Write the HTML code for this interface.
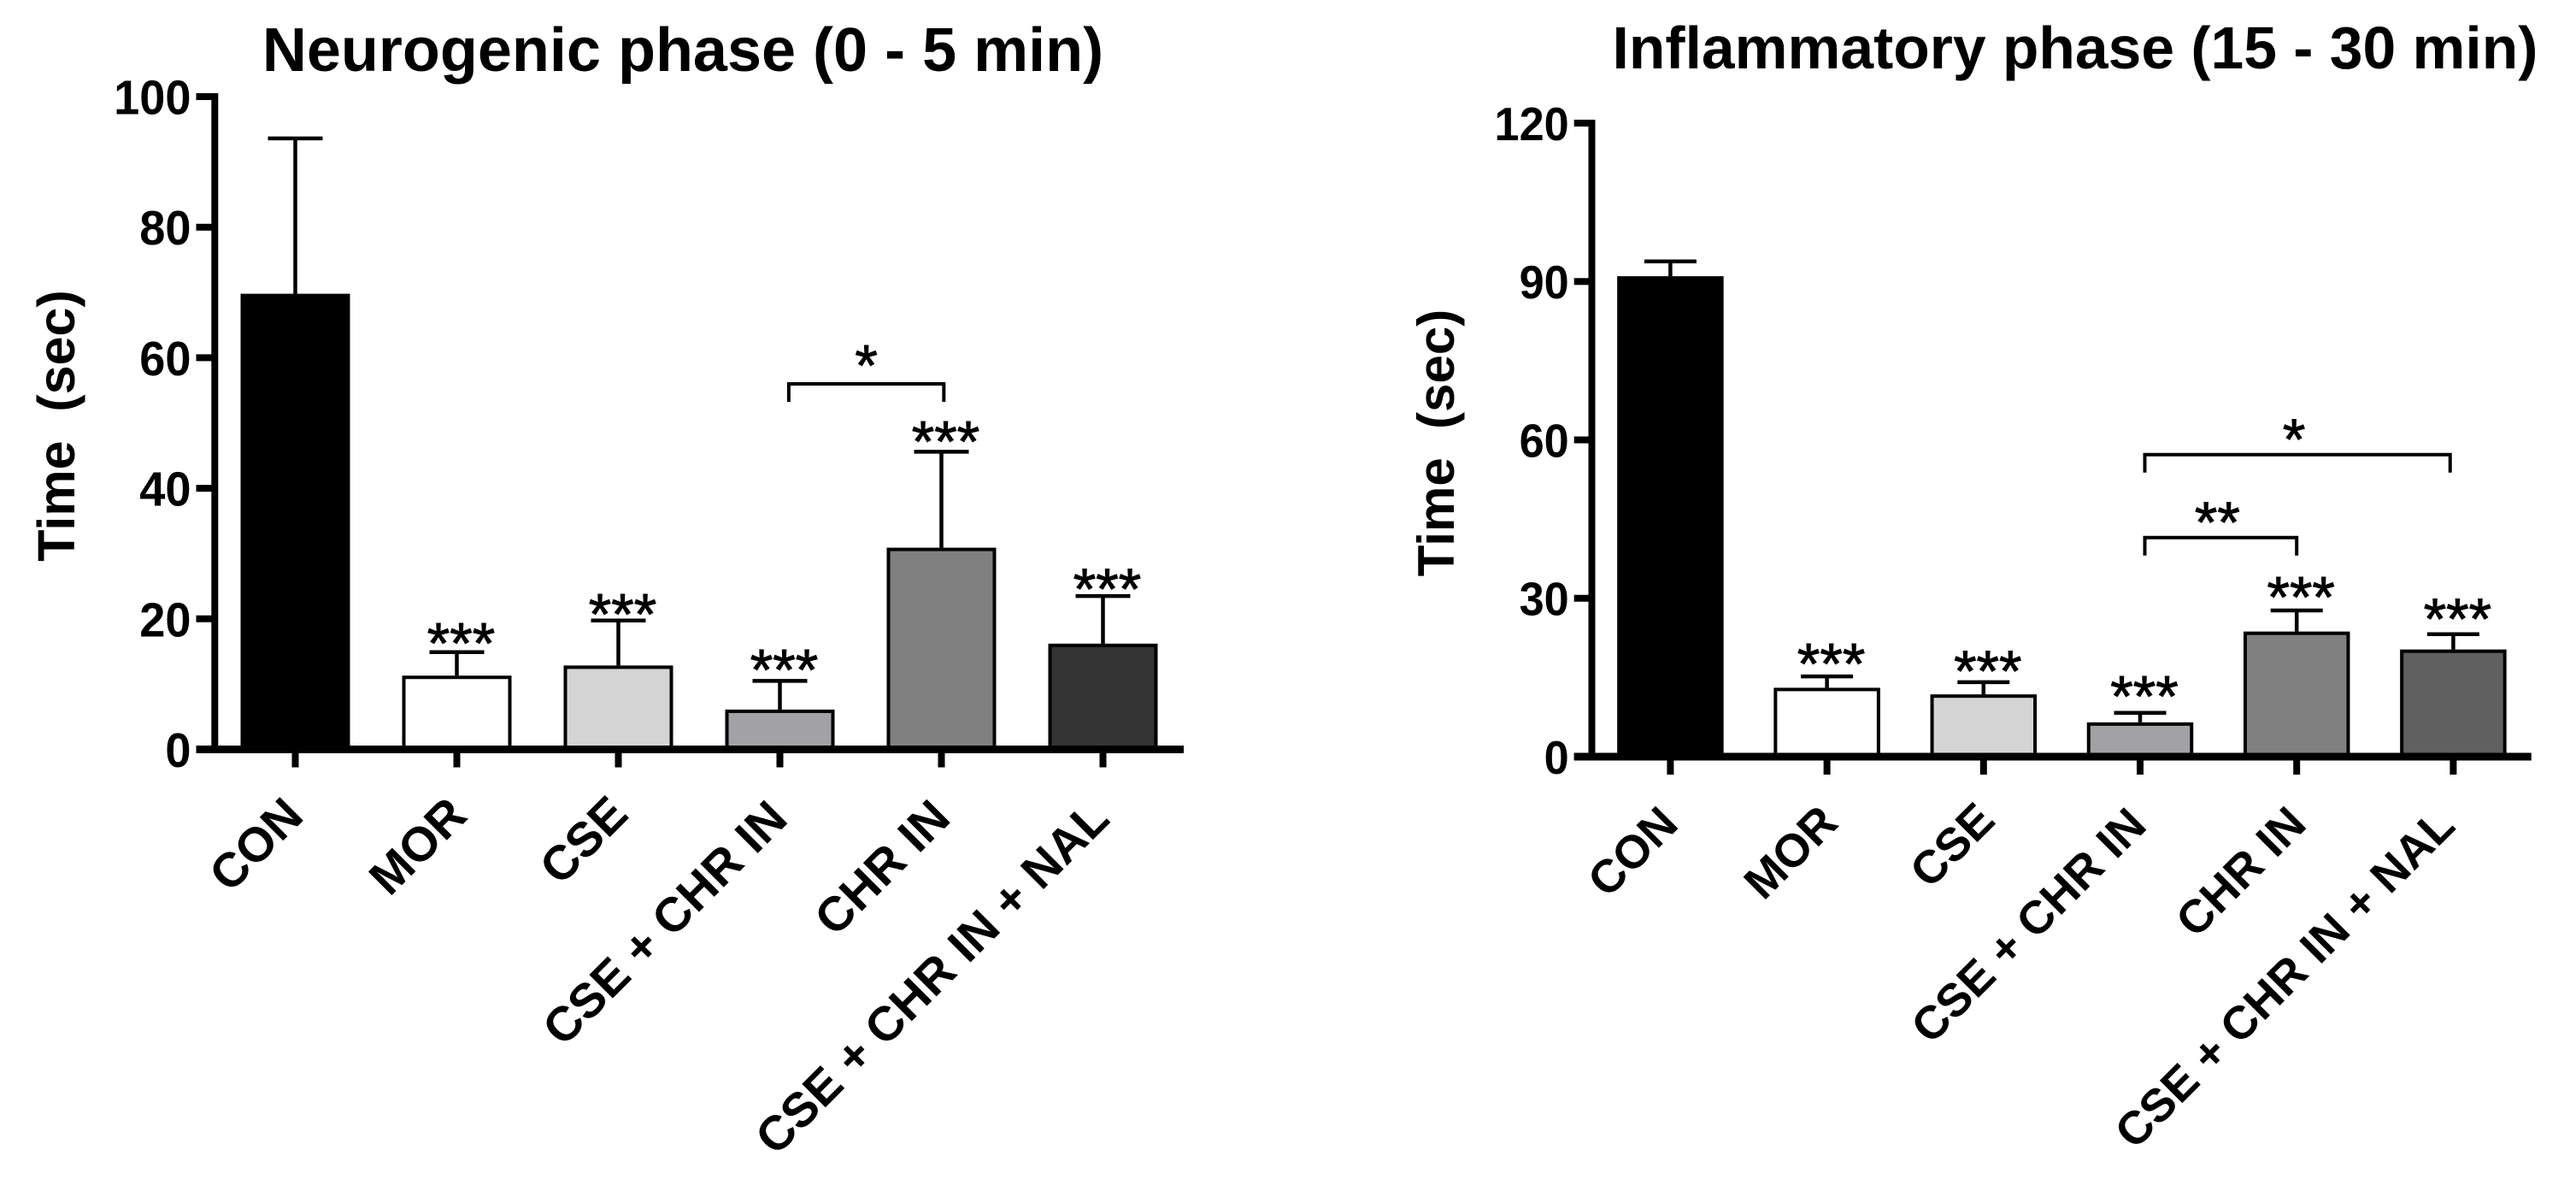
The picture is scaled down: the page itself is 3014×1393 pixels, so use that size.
<!DOCTYPE html>
<html lang="en">
<head>
<meta charset="utf-8">
<title>Neurogenic and inflammatory phase response times</title>
<style>
html,body{margin:0;padding:0;background:#fff;width:3014px;height:1393px;overflow:hidden}
svg{display:block;font-family:"Liberation Sans",Arial,sans-serif}
</style>
</head>
<body>
<svg id="figure" xmlns="http://www.w3.org/2000/svg" width="3014" height="1393" viewBox="0 0 3014 1393">
  <text x="799" y="83" text-anchor="middle" font-weight="700" font-size="72">Neurogenic phase (0 - 5 min)</text>
  <text x="2428" y="80" text-anchor="middle" font-weight="700" font-size="69.6">Inflammatory phase (15 - 30 min)</text>
  <text transform="translate(87 498) rotate(-90)" text-anchor="middle" font-weight="700" font-size="61" xml:space="preserve">Time  (sec)</text>
  <text transform="translate(1701 518) rotate(-90)" text-anchor="middle" font-weight="700" font-size="60" xml:space="preserve">Time  (sec)</text>
</svg>
<script>
const categories = ['CON', 'MOR', 'CSE', 'CSE + CHR IN', 'CHR IN', 'CSE + CHR IN + NAL'];

const neuroMeans = [69.8, 11.3, 12.85, 6.1, 30.9, 16.2];
const neuroErrorTops = [93.6, 14.9, 19.75, 10.5, 45.6, 23.5];
const neuroStarLevels = [null, 16.1, 20.5, 12, 47, 24.4];
const neuroStarLabels = ['', '***', '***', '***', '***', '***'];
const neuroTicks = [0, 20, 40, 60, 80, 100];
const neuroFills = ['#000000', '#ffffff', '#d4d4d4', '#a2a2a6', '#808080', '#333333'];
const neuroBracketFrom = [3.055];
const neuroBracketTo = [4.015];
const neuroBracketLevels = [56];
const neuroBracketLabels = ['*'];

const inflamMeans = [91, 13.05, 11.8, 6.5, 23.7, 20.3];
const inflamErrorTops = [93.8, 15.2, 14.1, 8.3, 27.7, 23.2];
const inflamStarLevels = [null, 17.4, 16, 11.2, 30, 25.9];
const inflamStarLabels = ['', '***', '***', '***', '***', '***'];
const inflamTicks = [0, 30, 60, 90, 120];
const inflamFills = ['#000000', '#ffffff', '#d4d4d4', '#a2a2a6', '#808080', '#606060'];
const inflamBracketFrom = [3.03, 3.03];
const inflamBracketTo = [4, 4.98];
const inflamBracketLevels = [41.5, 57.2];
const inflamBracketLabels = ['**', '*'];

const NS = 'http://www.w3.org/2000/svg';
const figure = document.getElementById('figure');

function make(tag, attrs, parent) {
  const node = document.createElementNS(NS, tag);
  Object.keys(attrs).forEach(function (k) { node.setAttribute(k, attrs[k]); });
  parent.appendChild(node);
  return node;
}

function drawChart(c) {
  const yOf = function (v) { return c.y0 - (v / c.max) * (c.y0 - c.yTop); };
  const xOf = function (i) { return c.x0 + i * c.step; };
  const starBase = c.starFont * 0.32;

  const group = make('g', {}, figure);
  
  

  c.means.forEach(function (mean, i) {
    const cx = xOf(i);
    const stem = make('line', { x1: cx, x2: cx, y1: yOf(c.errorTops[i]), y2: yOf(mean), stroke: '#000', 'stroke-width': 4.5 }, group);
    
    

    const cap = make('line', { x1: cx - c.capW / 2, x2: cx + c.capW / 2, y1: yOf(c.errorTops[i]), y2: yOf(c.errorTops[i]), stroke: '#000', 'stroke-width': 4.5 }, group);
    
    

    const bar = make('rect', { x: cx - c.barW / 2 + 2, y: yOf(mean) + 2, width: c.barW - 4, height: c.y0 - yOf(mean) - 2, fill: c.fills[i], stroke: '#000', 'stroke-width': 4 }, group);
    
    

    if (c.starLevels[i] !== null) {
      const star = make('text', { x: cx + c.starShift, y: yOf(c.starLevels[i]) + starBase, 'text-anchor': 'middle', 'font-size': c.starFont, stroke: '#000', 'stroke-width': 1 }, group);
      star.textContent = c.starLabels[i];
      
      
    }

    const tick = make('line', { x1: cx, x2: cx, y1: c.y0, y2: c.y0 + 21, stroke: '#000', 'stroke-width': 8 }, group);
    
    

    const label = make('text', { transform: 'translate(' + (cx + c.labelNudgeX[i]) + ' ' + (c.y0 + c.labelNudgeY[i]) + ') rotate(-45)', 'text-anchor': 'end', 'font-weight': 700, 'font-size': c.labelFont }, group);
    label.textContent = categories[i];
    
    
  });

  c.ticks.forEach(function (v) {
    const t = make('line', { x1: c.axisLeft, x2: c.yAxisX, y1: yOf(v), y2: yOf(v), stroke: '#000', 'stroke-width': 8 }, group);
    
    

    const lab = make('text', { transform: 'translate(' + (c.axisLeft - 6) + ' ' + (yOf(v) + c.tickFont * 0.36) + ') scale(0.95 1)', 'text-anchor': 'end', 'font-weight': 700, 'font-size': c.tickFont }, group);
    lab.textContent = String(v);
    
    
  });

  const yAxis = make('line', { x1: c.yAxisX, x2: c.yAxisX, y1: yOf(c.max) - 4, y2: c.y0, stroke: '#000', 'stroke-width': 8 }, group);
  
  

  const xAxis = make('line', { x1: c.axisLeft, x2: c.axisRight, y1: c.y0, y2: c.y0, stroke: '#000', 'stroke-width': 9 }, group);
  
  

  c.bracketLevels.forEach(function (level, i) {
    const left = c.x0 + c.bracketFrom[i] * c.step;
    const right = c.x0 + c.bracketTo[i] * c.step;
    const top = yOf(level);
    const bracket = make('polyline', { points: left + ',' + (top + 21) + ' ' + left + ',' + top + ' ' + right + ',' + top + ' ' + right + ',' + (top + 21), fill: 'none', stroke: '#000', 'stroke-width': 4 }, group);
    
    

    const mark = make('text', { x: (left + right) / 2 + c.bracketLabelShift, y: top - c.bracketLabelRise + starBase, 'text-anchor': 'middle', 'font-size': c.starFont, stroke: '#000', 'stroke-width': 1 }, group);
    mark.textContent = c.bracketLabels[i];
    
    
  });
}

drawChart({
  id: 'neurogenic', max: 100, y0: 876.5, yTop: 113,
  x0: 345.5, step: 189, barW: 128, capW: 64, yAxisX: 251.3, axisLeft: 229.5, axisRight: 1385,
  means: neuroMeans, errorTops: neuroErrorTops, starLevels: neuroStarLevels, starLabels: neuroStarLabels,
  ticks: neuroTicks, fills: neuroFills, bracketFrom: neuroBracketFrom, bracketTo: neuroBracketTo,
  bracketLevels: neuroBracketLevels, bracketLabels: neuroBracketLabels,
  tickFont: 57, labelFont: 56.5, starFont: 68, starShift: 5, bracketLabelShift: 0, bracketLabelRise: 20.4,
  labelNudgeX: [12, 14.5, 14, 11.5, 13, 10],
  labelNudgeY: [80.5, 80, 78.6, 84, 83, 84]
});

drawChart({
  id: 'inflammatory', max: 120, y0: 885, yTop: 144,
  x0: 1954.4, step: 183.2, barW: 124.5, capW: 61, yAxisX: 1862.5, axisLeft: 1841.7, axisRight: 2961.7,
  means: inflamMeans, errorTops: inflamErrorTops, starLevels: inflamStarLevels, starLabels: inflamStarLabels,
  ticks: inflamTicks, fills: inflamFills, bracketFrom: inflamBracketFrom, bracketTo: inflamBracketTo,
  bracketLevels: inflamBracketLevels, bracketLabels: inflamBracketLabels,
  tickFont: 55, labelFont: 54.3, starFont: 68, starShift: 5, bracketLabelShift: -4, bracketLabelRise: 16.6,
  labelNudgeX: [11.6, 15.4, 15.8, 10, 13.8, 4.6],
  labelNudgeY: [81.5, 80, 77, 83, 81.5, 83.5]
});
</script>
</body>
</html>
